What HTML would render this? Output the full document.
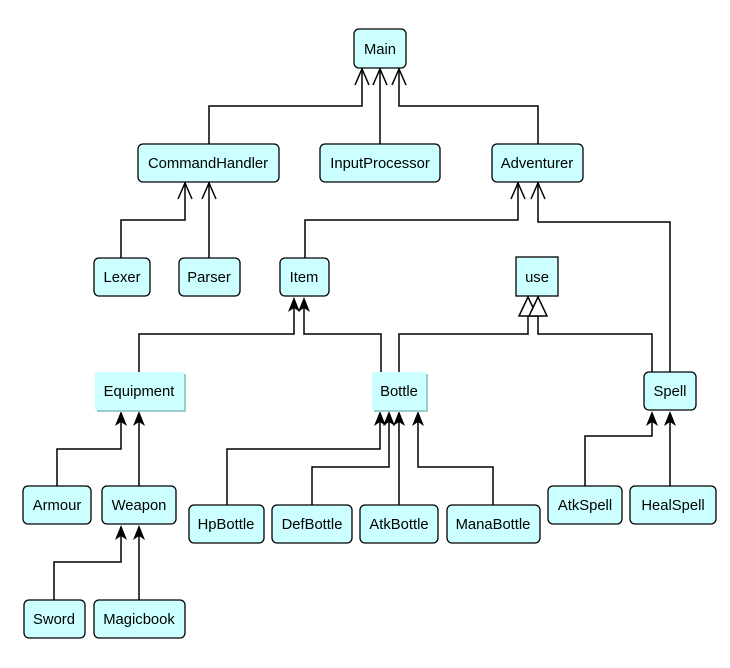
<!DOCTYPE html>
<html><head><meta charset="utf-8"><style>
html,body{margin:0;padding:0;background:#fff;}
svg text{font-family:"Liberation Sans",sans-serif;font-size:14.8px;fill:#000;text-anchor:middle;}
</style></head><body>
<svg width="730" height="663" viewBox="0 0 730 663" xmlns="http://www.w3.org/2000/svg">
<defs>
<filter id="sh" x="-10%" y="-10%" width="130%" height="130%"><feOffset dx="2" dy="2" in="SourceAlpha" result="o"/><feFlood flood-color="#99cccc"/><feComposite in2="o" operator="in"/><feMerge><feMergeNode/><feMergeNode in="SourceGraphic"/></feMerge></filter>
</defs>
<g fill="none" stroke="#000" stroke-width="1.5">
<polyline points="209,144 209,106 362,106 362,68"/>
<line x1="380" y1="144" x2="380" y2="68"/>
<polyline points="538,144 538,106 399,106 399,68"/>
<polyline points="121,258 121,220 185,220 185,182"/>
<line x1="209" y1="258" x2="209" y2="182"/>
<polyline points="305,258 305,220 518,220 518,182"/>
<polyline points="670,372 670,222 538,222 538,182"/>
<polyline points="139,372 139,334 294,334 294,300"/>
<polyline points="381,372 381,334 304,334 304,300"/>
<polyline points="399,372 399,334 528,334 528,316"/>
<polyline points="652,372 652,334 538,334 538,316"/>
<polyline points="57,486 57,449 121,449 121,414"/>
<line x1="139" y1="486" x2="139" y2="414"/>
<polyline points="227,505 227,449 380,449 380,414"/>
<polyline points="312,505 312,467 389,467 389,414"/>
<line x1="399" y1="505" x2="399" y2="414"/>
<polyline points="493,505 493,467 418,467 418,414"/>
<polyline points="585,486 585,436 652,436 652,414"/>
<line x1="670" y1="486" x2="670" y2="414"/>
<polyline points="54,600 54,562 121,562 121,528"/>
<line x1="139" y1="600" x2="139" y2="528"/>
<polyline points="355,85 362,69 369,85"/>
<polyline points="373,85 380,69 387,85"/>
<polyline points="392,85 399,69 406,85"/>
<polyline points="178,199 185,183 192,199"/>
<polyline points="202,199 209,183 216,199"/>
<polyline points="511,199 518,183 525,199"/>
<polyline points="531,199 538,183 545,199"/>
</g>
<g fill="#fff" stroke="#000" stroke-width="1.5">
<polygon points="528,297 519,316 537,316"/>
<polygon points="538,297 529,316 547,316"/>
</g>
<g fill="#000">
<path d="M294,297 l-6,15 l6,-4 l6,4z"/>
<path d="M304,297 l-6,15 l6,-4 l6,4z"/>
<path d="M121,411 l-6,15 l6,-4 l6,4z"/>
<path d="M139,411 l-6,15 l6,-4 l6,4z"/>
<path d="M380,411 l-6,15 l6,-4 l6,4z"/>
<path d="M389,411 l-6,15 l6,-4 l6,4z"/>
<path d="M399,411 l-6,15 l6,-4 l6,4z"/>
<path d="M418,411 l-6,15 l6,-4 l6,4z"/>
<path d="M652,411 l-6,15 l6,-4 l6,4z"/>
<path d="M670,411 l-6,15 l6,-4 l6,4z"/>
<path d="M121,525 l-6,15 l6,-4 l6,4z"/>
<path d="M139,525 l-6,15 l6,-4 l6,4z"/>
</g>
<g fill="#ccffff" stroke="#000" stroke-width="1.3">
<rect x="354" y="29" width="52" height="39" rx="5"/>
<rect x="138" y="144" width="141" height="38" rx="5"/>
<rect x="320" y="144" width="120" height="38" rx="5"/>
<rect x="492" y="144" width="91" height="38" rx="5"/>
<rect x="94" y="258" width="56" height="38" rx="5"/>
<rect x="179" y="258" width="61" height="38" rx="5"/>
<rect x="280" y="258" width="49" height="38" rx="5"/>
<rect x="516" y="257" width="42" height="39"/>
<rect x="644" y="372" width="52" height="38" rx="5"/>
<rect x="23" y="486" width="68" height="38" rx="5"/>
<rect x="102" y="486" width="74" height="38" rx="5"/>
<rect x="189" y="505" width="75" height="38" rx="5"/>
<rect x="272" y="505" width="80" height="38" rx="5"/>
<rect x="360" y="505" width="78" height="38" rx="5"/>
<rect x="447" y="505" width="93" height="38" rx="5"/>
<rect x="548" y="486" width="74" height="38" rx="5"/>
<rect x="630" y="486" width="86" height="38" rx="5"/>
<rect x="24" y="600" width="61" height="38" rx="5"/>
<rect x="94" y="600" width="91" height="38" rx="5"/>
</g>
<g fill="#ccffff" filter="url(#sh)">
<rect x="95" y="372" width="89" height="38"/>
<rect x="372" y="372" width="54" height="38"/>
</g>
<g>
<text x="380" y="54">Main</text>
<text x="208" y="168">CommandHandler</text>
<text x="380" y="168">InputProcessor</text>
<text x="537" y="168">Adventurer</text>
<text x="122" y="282">Lexer</text>
<text x="209" y="282">Parser</text>
<text x="304" y="282">Item</text>
<text x="537" y="282">use</text>
<text x="139" y="396">Equipment</text>
<text x="399" y="396">Bottle</text>
<text x="670" y="396">Spell</text>
<text x="57" y="510">Armour</text>
<text x="139" y="510">Weapon</text>
<text x="226" y="529">HpBottle</text>
<text x="312" y="529">DefBottle</text>
<text x="399" y="529">AtkBottle</text>
<text x="493" y="529">ManaBottle</text>
<text x="585" y="510">AtkSpell</text>
<text x="673" y="510">HealSpell</text>
<text x="54" y="624">Sword</text>
<text x="139" y="624">Magicbook</text>
</g>
</svg>
</body></html>
